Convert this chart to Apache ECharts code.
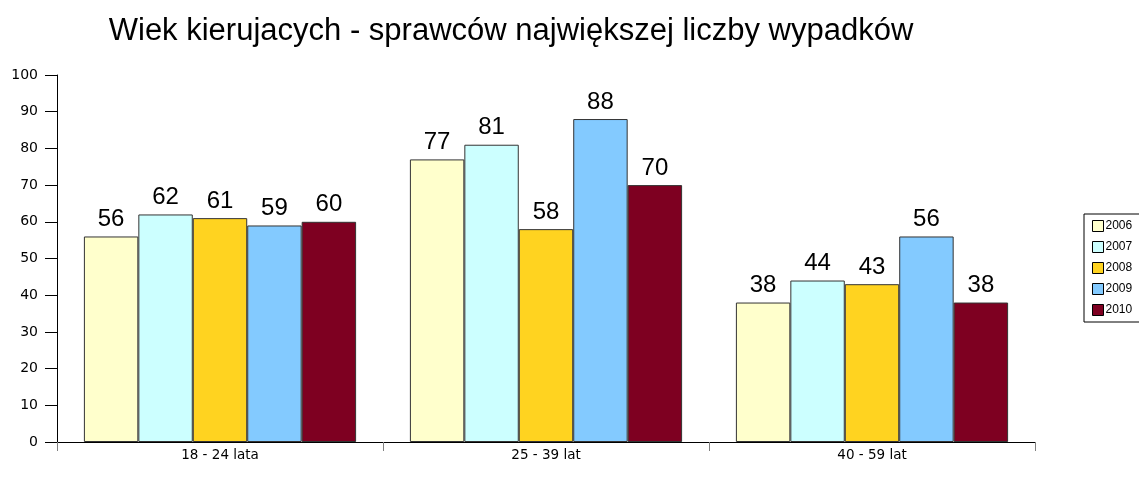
<!DOCTYPE html>
<html><head><meta charset="utf-8">
<script src="https://cdn.jsdelivr.net/npm/echarts@6/dist/echarts.min.js"></script>
<style>html,body{margin:0;padding:0;background:#fff}#c{width:1139px;height:488px}</style>
</head><body><div id="c"></div>
<script>
const titleText = 'Wiek kierujacych - sprawców największej liczby wypadków';
const categories = ['18 - 24 lata', '25 - 39 lat', '40 - 59 lat'];
const years = ['2006', '2007', '2008', '2009', '2010'];
const v2006 = [56, 77, 38];
const v2007 = [62, 81, 44];
const v2008 = [61, 58, 43];
const v2009 = [59, 88, 56];
const v2010 = [60, 70, 38];
const colors = ['#FFFFCC', '#CCFFFF', '#FFD320', '#83CAFF', '#7E0021'];
const seriesValues = [v2006, v2007, v2008, v2009, v2010];

const font = 'Liberation Sans, Arial, sans-serif';
const wide = 'DejaVu Sans, sans-serif';
const chart = echarts.init(document.getElementById('c'));
chart.setOption({
  animation: false,
  color: colors,
  title: {
    text: titleText, left: 506, top: 11, textAlign: 'center',
    textStyle: { fontFamily: font, fontSize: 31, fontWeight: 'normal', color: '#000' }
  },
  legend: {
    orient: 'vertical', left: 1084, top: 214,
    itemWidth: 11, itemHeight: 11, itemGap: 9,
    padding: [6, 20, 6, 8],
    borderColor: '#000', borderWidth: 1,
    textStyle: { fontFamily: font, fontSize: 12, color: '#000', padding: [0, 0, 0, -3] },
    data: years.map(y => ({ name: y, icon: 'rect' })),
    itemStyle: { borderColor: '#000', borderWidth: 1 }
  },
  grid: { left: 57, right: 104, top: 75, bottom: 46, containLabel: false },
  xAxis: {
    type: 'category', data: categories,
    axisLine: { lineStyle: { color: '#000', width: 1 } },
    axisTick: { show: true, length: 9, lineStyle: { color: '#808080' } },
    axisLabel: { fontFamily: wide, fontSize: 13.5, color: '#000', margin: 6 }
  },
  yAxis: {
    type: 'value', min: 0, max: 100, interval: 10,
    axisLine: { show: true, lineStyle: { color: '#000' } },
    axisTick: { show: true, length: 12, lineStyle: { color: '#000' } },
    splitLine: { show: false },
    axisLabel: { fontFamily: wide, fontSize: 14, color: '#000', margin: 19 }
  },
  series: years.map((y, i) => ({
    name: y, type: 'bar', data: seriesValues[i],
    barGap: '0%', barCategoryGap: '16.5%',
    itemStyle: { color: colors[i], borderColor: '#333', borderWidth: 1 },
    label: { show: true, position: 'top', distance: 5, fontFamily: font, fontSize: 24, color: '#000' }
  }))
});
</script></body></html>
